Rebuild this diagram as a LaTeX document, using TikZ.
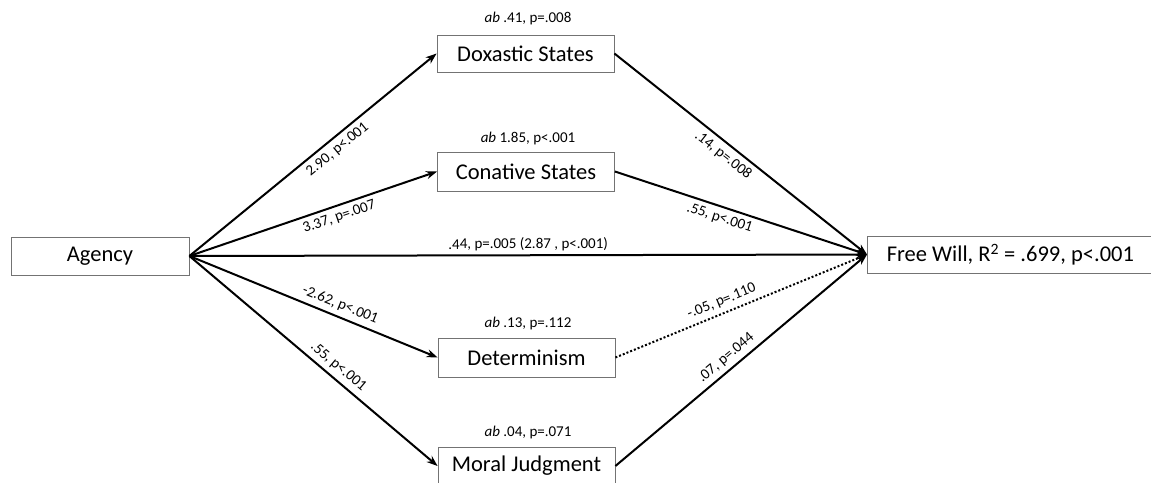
\documentclass[tikz,border=0pt]{standalone}
\usepackage{fontspec}
\setmainfont{Carlito}
\usetikzlibrary{arrows.meta}
\begin{document}
\begin{tikzpicture}[x=1pt,y=-1pt,
  box/.style={draw=black!55, line width=0.8pt, fill=white, inner sep=0pt, font=\fontsize{22.5}{24}\selectfont},
  lbl/.style={font=\fontsize{15}{17}\selectfont, sloped, inner sep=4.5pt},
  conn/.style={line width=2pt, -{Stealth[length=11pt,width=8pt]}},
  abl/.style={font=\fontsize{15}{17}\selectfont, inner sep=0pt}]
\useasboundingbox (0,0) rectangle (1151,482);
\clip (0,0) rectangle (1151,482);
\node[box, minimum width=178pt, minimum height=38pt] (ag) at (100,256) {Agency};
\node[box, minimum width=177pt, minimum height=37pt] (dox) at (525.5,53.5) {Doxastic States};
\node[box, minimum width=177pt, minimum height=39pt] (con) at (526,171.5) {Conative States};
\node[box, minimum width=177pt, minimum height=39pt] (det) at (526.5,357.5) {Determinism};
\node[box, minimum width=177pt, minimum height=38pt] (mor) at (526.5,466) {Moral Judgment};
\node[box, minimum width=286pt, minimum height=37pt, anchor=west] (fw) at (867,254.5) {Free Will, R\textsuperscript{2} = .699, p<.001};

\node[abl] (abdox) at (528,18) {\textit{ab} .41, p=.008};
\node[abl] (abcon) at (528,138) {\textit{ab} 1.85, p<.001};
\node[abl] (abdet) at (528,323) {\textit{ab} .13, p=.112};
\node[abl] (abmor) at (528,432) {\textit{ab} .04, p=.071};

\draw[conn] (ag.east) -- node[lbl, pos=0.57, below] {2.90, p<.001} (dox.west);
\draw[conn] (ag.east) -- node[lbl, pos=0.59, below] {3.37, p=.007} (con.west);
\draw[conn] (ag.east) -- node[lbl, pos=0.59, above] {-2.62, p<.001} (det.west);
\draw[conn] (ag.east) -- node[lbl, pos=0.57, above] {.55, p<.001} (mor.west);
\draw[conn] (ag.east) -- node[lbl, pos=0.5, above, inner sep=3pt] {.44, p=.005 (2.87 , p<.001)} (fw.west);
\draw[conn] (dox.east) -- node[lbl, pos=0.46, below] {.14, p=.008} (fw.west);
\draw[conn] (con.east) -- node[lbl, pos=0.43, below] {.55, p<.001} (fw.west);
\draw[conn, dotted] (det.east) -- node[lbl, pos=0.44, above] {-.05, p=.110} (fw.west);
\draw[conn] (mor.east) -- node[lbl, pos=0.47, above] {.07, p=.044} (fw.west);
\end{tikzpicture}
\end{document}
